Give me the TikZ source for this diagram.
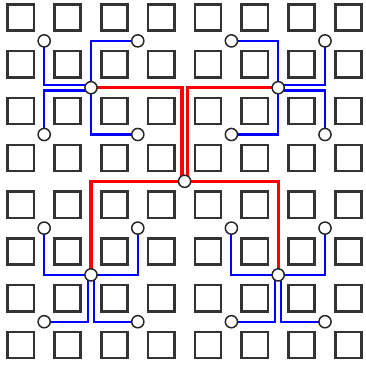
\documentclass[tikz,border=0pt]{standalone}
\usetikzlibrary{backgrounds}
\begin{document}
\begin{tikzpicture}[
  cell/.style={draw=black!80,line width=1.5pt},
  sw node/.style={circle,draw=black!85,fill=white,line width=.9pt,inner sep=0pt,minimum size=.26cm},
  bluewire/.style={blue,line width=1.3pt},
  redwire/.style={red,line width=2pt}]
\useasboundingbox (-.444,-.425) rectangle (7.376,7.374);
\foreach \i in {0,...,7} \foreach \j in {0,...,7}
  \draw[cell] (\i-.28,\j-.28) rectangle +(.56,.56);
% switches
\node[sw node] (root) at (3.5,3.5) {};
\node[sw node] (nw) at (1.5,5.5) {}; \node[sw node] (ne) at (5.5,5.5) {};
\node[sw node] (sw) at (1.5,1.5) {}; \node[sw node] (se) at (5.5,1.5) {};
\node[sw node] (nwa) at (.5,6.5) {}; \node[sw node] (nwb) at (2.5,6.5) {};
\node[sw node] (nwc) at (.5,4.5) {}; \node[sw node] (nwd) at (2.5,4.5) {};
\node[sw node] (nea) at (4.5,6.5) {}; \node[sw node] (neb) at (6.5,6.5) {};
\node[sw node] (nec) at (4.5,4.5) {}; \node[sw node] (ned) at (6.5,4.5) {};
\node[sw node] (swa) at (.5,2.5) {}; \node[sw node] (swb) at (2.5,2.5) {};
\node[sw node] (swc) at (.5,.5) {}; \node[sw node] (swd) at (2.5,.5) {};
\node[sw node] (sea) at (4.5,2.5) {}; \node[sw node] (seb) at (6.5,2.5) {};
\node[sw node] (sec) at (4.5,.5) {}; \node[sw node] (sed) at (6.5,.5) {};
\begin{pgfonlayer}{background}
% lower level links
\draw[bluewire] (nwa.center) |- ([yshift=.06cm]nw.center);
\draw[bluewire] (nwc.center) |- ([yshift=-.06cm]nw.center);
\draw[bluewire] (nwb.center) -| (nw.center) (nwd.center) -| (nw.center);
\draw[bluewire] (neb.center) |- ([yshift=.06cm]ne.center);
\draw[bluewire] (ned.center) |- ([yshift=-.06cm]ne.center);
\draw[bluewire] (nea.center) -| (ne.center) (nec.center) -| (ne.center);
\draw[bluewire] (swa.center) |- (sw.center) (swb.center) |- (sw.center);
\draw[bluewire] (swc.center) -| ([xshift=-.06cm]sw.center);
\draw[bluewire] (swd.center) -| ([xshift=.06cm]sw.center);
\draw[bluewire] (sea.center) |- (se.center) (seb.center) |- (se.center);
\draw[bluewire] (sec.center) -| ([xshift=-.06cm]se.center);
\draw[bluewire] (sed.center) -| ([xshift=.06cm]se.center);
% upper level links
\draw[redwire] (nw.center) -| ([xshift=-.055cm]root.center);
\draw[redwire] (ne.center) -| ([xshift=.055cm]root.center);
\draw[redwire] (sw.center) |- (root.center) (se.center) |- (root.center);
\end{pgfonlayer}
\end{tikzpicture}
\end{document}
